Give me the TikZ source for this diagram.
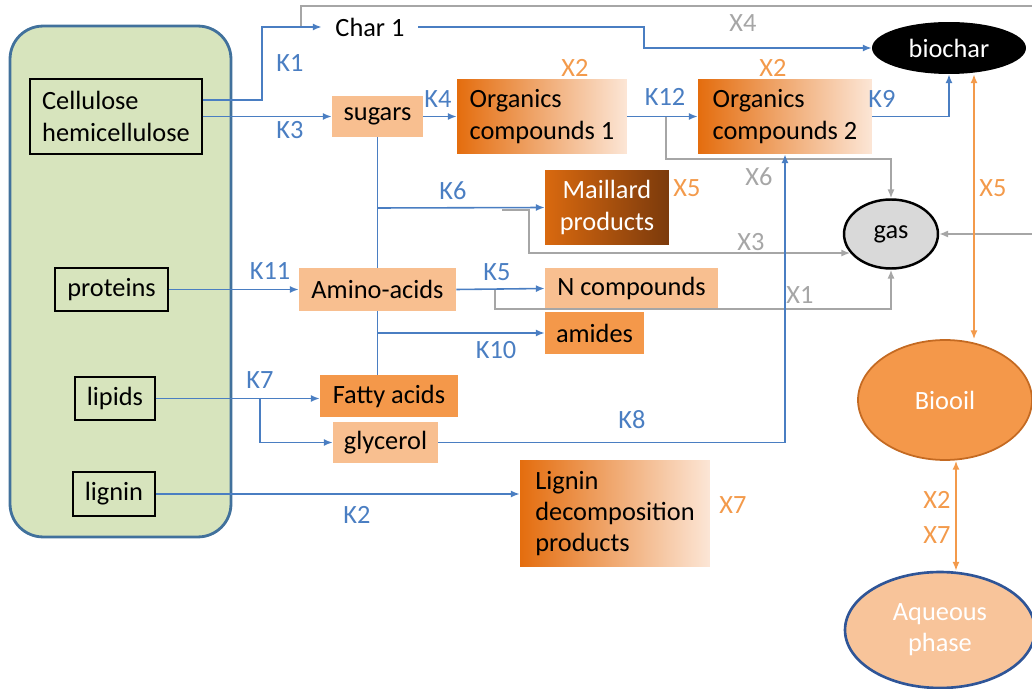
\documentclass[tikz,border=0pt]{standalone}
\usepackage{fontspec}
\setmainfont{Carlito}
\usetikzlibrary{shapes.geometric,arrows.meta,positioning}
\definecolor{kblue}{HTML}{4A7EC2}
\definecolor{xgray}{HTML}{A6A6A6}
\definecolor{xorange}{HTML}{F39A4B}
\definecolor{olight}{HTML}{F8BF90}
\definecolor{omid}{HTML}{F4984A}
\definecolor{odark}{HTML}{E46D0E}
\definecolor{ofade}{HTML}{FCE6D6}
\definecolor{mtop}{HTML}{D9690F}
\definecolor{mbot}{HTML}{7B3A0C}
\definecolor{gfill}{HTML}{D7E4BD}
\definecolor{gborder}{HTML}{41719C}
\definecolor{gasgray}{HTML}{D9D9D9}
\definecolor{oilborder}{HTML}{C46A22}
\definecolor{aqborder}{HTML}{2F5597}
\definecolor{aqfill}{HTML}{F8C49A}

\begin{document}
\begin{tikzpicture}[x=0.02cm,y=-0.02cm,
  font=\fontsize{15}{17.8}\selectfont,
  src/.style={draw=black,line width=0.7pt,align=left,inner sep=0pt},
  lbox/.style={fill=olight,inner sep=0pt},
  mbox/.style={fill=omid,inner sep=0pt},
  gbox/.style={left color=odark,right color=ofade,inner sep=0pt,align=left},
  ell/.style={ellipse,inner sep=0pt,align=center},
  bline/.style={draw=kblue,line width=0.9pt},
  barr/.style={bline,-{Latex[length=5pt,width=4pt]}},
  gline/.style={draw=xgray,line width=0.9pt},
  garr/.style={gline,-{Latex[length=5pt,width=4pt]}},
  oarr/.style={draw=xorange,line width=0.9pt,{Latex[length=5pt,width=4pt]}-{Latex[length=5pt,width=4pt]}},
  klab/.style={text=kblue},
  xlab/.style={text=xgray},
  olab/.style={text=xorange}]
\useasboundingbox (0,0) rectangle (1032,689);

\node (feed) at (120.5,281.5) [draw=gborder,fill=gfill,line width=1.6pt,rounded corners=0.66cm,minimum width=4.42cm,minimum height=10.22cm] {};
\node (cel) at (116,116.5) [src,minimum width=3.44cm,minimum height=1.5cm] {Cellulose\\hemicellulose};
\node (prot) at (111.5,289.5) [src,minimum width=2.26cm,minimum height=0.86cm] {proteins};
\node (lip) at (115,398.5) [src,minimum width=1.6cm,minimum height=0.86cm] {lipids};
\node (lig) at (114,494) [src,minimum width=1.64cm,minimum height=0.88cm] {lignin};

\node (ch1) at (370,27) [inner xsep=0.27cm,inner ysep=0pt] {Char 1};
\node (sug) at (377.5,116.5) [lbox,minimum width=1.82cm,minimum height=0.82cm] {sugars};
\node (oc1) at (542,116.5) [gbox,minimum width=3.4cm,minimum height=1.5cm] {Organics\\compounds 1};
\node (oc2) at (785,116.5) [gbox,minimum width=3.48cm,minimum height=1.5cm] {Organics\\compounds 2};
\node (mail) at (607,207.5) [left color=mtop,right color=mbot,text=white,align=center,inner sep=0pt,minimum width=2.48cm,minimum height=1.5cm] {Maillard\\products};
\node (amino) at (377.5,289.5) [lbox,minimum width=3.14cm,minimum height=0.86cm] {Amino-acids};
\node (ncomp) at (631.5,288.5) [lbox,minimum width=3.46cm,minimum height=0.82cm] {N compounds};
\node (ami) at (594.5,333) [mbox,minimum width=1.98cm,minimum height=0.84cm] {amides};
\node (fat) at (389,396) [mbox,minimum width=2.76cm,minimum height=0.84cm] {Fatty acids};
\node (gly) at (385.5,442.5) [lbox,minimum width=2.1cm,minimum height=0.82cm] {glycerol};
\node (ldp) at (615,513.5) [gbox,minimum width=3.8cm,minimum height=2.14cm] {Lignin\\ decomposition\\ products};

\node (bch) at (949,48) [ell,fill=black,text=white,minimum width=3.08cm,minimum height=1.04cm] {biochar};
\node (gas) at (891,234) [ell,draw=black,line width=1.4pt,fill=gasgray,minimum width=1.88cm,minimum height=1.38cm] {gas};
\node (oil) at (945,400) [ell,draw=oilborder,line width=1pt,fill=omid,text=white,minimum width=3.48cm,minimum height=2.4cm] {Biooil};
\node (aq) at (940,630) [ell,draw=aqborder,line width=1.5pt,fill=aqfill,text=white,minimum width=3.8cm,minimum height=2.32cm] {Aqueous\\phase};

\coordinate (b0) at (262,100);
\coordinate (b1) at (644,27);
\coordinate (g0) at (301,27);
\coordinate (g1) at (1032,6);
\coordinate (g2) at (666,117);
\coordinate (g3) at (666,159);
\coordinate (g4) at (502,210);
\coordinate (g5) at (529,210);
\coordinate (g6) at (495,290);
\coordinate (g7) at (495,309);
\coordinate (g8) at (1032,234);
\coordinate (j6) at (378,208);
\coordinate (j10) at (378,333);
\coordinate (j7) at (260,398);
\coordinate (o1) at (974,0);
\coordinate (o2) at (956,0);

\draw[gline] (g0) |- (g1);
\draw[barr] (cel.east |- b0) -- (b0) |- (ch1.west);
\draw[barr] (ch1.east) -- (b1) |- (bch.west);
\draw[barr] (cel.east) -- (sug.west);
\draw[barr] (sug.east) -- (oc1.west);
\draw[barr] (oc1.east) -- (oc2.west);
\draw[garr] (g2) -- (g3) -| (gas.north);
\draw[barr] (oc2.east) -| (bch.south);
\draw[bline] (sug.south) -- (amino.north);
\draw[bline] (amino.south) -- (amino.south |- fat.north);
\draw[barr] (j6) -- (mail.west);
\draw[garr] (g4) -- (g5) |- (gas.205);
\draw[barr] (j10) -- (ami.west);
\draw[barr] (prot.east) -- (amino.west);
\draw[barr] (amino.east) -- (ncomp.west);
\draw[garr] (g6) -- (g7) -| (gas.south);
\draw[barr] (lip.east) -- (lip.east -| fat.west);
\draw[barr] (j7) |- (gly.west);
\draw[barr] (gly.east) -| (oc2.south);
\draw[barr] (lig.east) -- (lig.east -| ldp.west);
\draw[garr] (g8) -- (gas.east);
\draw[oarr] (o1 |- bch.south) -- (o1 |- oil.north);
\draw[oarr] (o2 |- oil.south) -- (o2 |- aq.north);

\foreach \t/\x/\y in {K1/290/63,K3/290/130,K4/438/99,K12/665/97,K9/882/99,K6/453/191,K11/270/271,K5/497/272,K10/496/350,K7/260/380,K8/632/420,K2/357/515}
  \node (l\t) at (\x,\y) [klab] {\t};
\foreach \t/\x/\y [count=\i] in {X4/743/23,X6/759/177,X3/751/242,X1/800/295}
  \node (lx\i) at (\x,\y) [xlab] {\t};
\foreach \t/\x/\y [count=\i] in {X2/575/68,X2/773/68,X5/687/188,X5/993/188,X7/733/505,X2/937/500,X7/937/535}
  \node (lo\i) at (\x,\y) [olab] {\t};
\end{tikzpicture}
\end{document}
